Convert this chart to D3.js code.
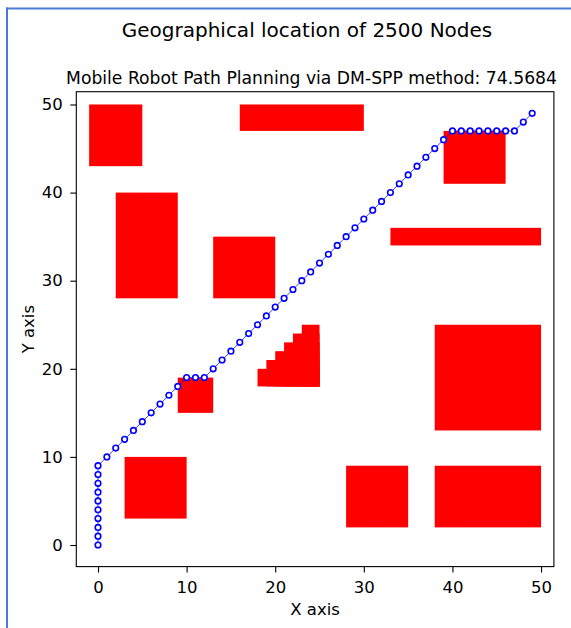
<!DOCTYPE html>
<html>
<head>
<meta charset="utf-8">
<script src="https://cdn.jsdelivr.net/npm/d3@7"></script>
<style>
  body { margin: 0; background: #fff; }
  svg { display: block; font-family: "DejaVu Sans", sans-serif; }
</style>
</head>
<body>
<svg id="chart" width="571" height="628"></svg>
<script>
// path found by the planner (x, y)
var pathX = [0, 0, 0, 0, 0, 0, 0, 0, 0, 0,
             1, 2, 3, 4, 5, 6, 7, 8, 9, 10, 11, 12,
             13, 14, 15, 16, 17, 18, 19, 20, 21, 22, 23, 24, 25, 26,
             27, 28, 29, 30, 31, 32, 33, 34, 35, 36, 37, 38, 39, 40,
             41, 42, 43, 44, 45, 46, 47, 48, 49];
var pathY = [0, 1, 2, 3, 4, 5, 6, 7, 8, 9,
             10, 11, 12, 13, 14, 15, 16, 17, 18, 19, 19, 19,
             20, 21, 22, 23, 24, 25, 26, 27, 28, 29, 30, 31, 32, 33,
             34, 35, 36, 37, 38, 39, 40, 41, 42, 43, 44, 45, 46, 47,
             47, 47, 47, 47, 47, 47, 47, 48, 49];

// obstacles: x0, x1, y0, y1
var obsX0 = [-1, 16, 2, 13, 39, 33, 9, 3, 38, 28, 38, 18, 19, 20, 21, 22, 23];
var obsX1 = [5, 30, 9, 20, 46, 50, 13, 10, 50, 35, 50, 25, 25, 25, 25, 25, 25];
var obsY0 = [43, 47, 28, 28, 41, 34, 15, 3, 13, 2, 2, 18, 18, 18, 18, 18, 18];
var obsY1 = [50, 50, 40, 35, 47, 36, 19, 10, 25, 9, 9, 20, 21, 22, 23, 24, 25];

var ticks = [0, 10, 20, 30, 40, 50];
var titleText = "Geographical location of 2500 Nodes";
var subText = "Mobile Robot Path Planning via DM-SPP method: 74.5684";

var svg = d3.select('#chart');

// window frame lines
svg.append('line').attr('x1', 7).attr('x2', 7).attr('y1', 7.5).attr('y2', 628)
  .attr('stroke', '#4a7bd2').attr('stroke-width', 2);
svg.append('line').attr('x1', 6).attr('x2', 571).attr('y1', 8.5).attr('y2', 8.5)
  .attr('stroke', '#4a7bd2').attr('stroke-width', 2);

var pLeft = 76.3, pRight = 553.9, pTop = 91.7, pBottom = 566.6;

var x = d3.scaleLinear().domain([-2.45, 51.45]).range([pLeft, pRight]);
var y = d3.scaleLinear().domain([-2.45, 51.45]).range([pBottom, pTop]);

var g = svg.append('g');

var obs = obsX0.map(function(d, i) {
  return {x0: d, x1: obsX1[i], y0: obsY0[i], y1: obsY1[i]};
});

g.selectAll('rect.obs')
  .data(obs)
  .enter()
  .append('rect')
  .attr('class', 'obs')
  .attr('x', function(d) { return x(d.x0); })
  .attr('y', function(d) { return y(d.y1); })
  .attr('width', function(d) { return x(d.x1) - x(d.x0); })
  .attr('height', function(d) { return y(d.y0) - y(d.y1); })
  .attr('fill', '#ff0000');

var pts = pathX.map(function(d, i) { return [d, pathY[i]]; });

g.append('path')
  .datum(pts)
  .attr('fill', 'none')
  .attr('stroke', '#0000ff')
  .attr('stroke-opacity', 0.75)
  .attr('stroke-width', 1)
  .attr('d', d3.line().x(function(d) { return x(d[0]); }).y(function(d) { return y(d[1]); }));

g.selectAll('circle')
  .data(pts)
  .enter()
  .append('circle')
  .attr('cx', function(d) { return x(d[0]); })
  .attr('cy', function(d) { return y(d[1]); })
  .attr('r', 2.8)
  .attr('fill', '#fff')
  .attr('stroke', '#0000ff')
  .attr('stroke-width', 1.6);

// axes
var xAxis = d3.axisBottom(x).tickValues(ticks).tickSize(6).tickPadding(9);
var yAxis = d3.axisLeft(y).tickValues(ticks).tickSize(6).tickPadding(7.5);

var gx = svg.append('g').attr('transform', 'translate(0,' + pBottom + ')').call(xAxis);
var gy = svg.append('g').attr('transform', 'translate(' + pLeft + ',0)').call(yAxis);
[gx, gy].forEach(function(a) {
  a.select('.domain').remove();
  a.selectAll('text').attr('font-size', 16.5).attr('fill', '#000')
    .attr('font-family', '"DejaVu Sans", sans-serif');
  a.selectAll('line').attr('stroke', '#000').attr('stroke-width', 1.1);
});

// spines
svg.append('rect')
  .attr('x', pLeft).attr('y', pTop)
  .attr('width', pRight - pLeft).attr('height', pBottom - pTop)
  .attr('fill', 'none').attr('stroke', '#000').attr('stroke-width', 1.1);

// labels
svg.append('text').attr('x', (pLeft + pRight) / 2).attr('y', 615)
  .attr('text-anchor', 'middle').attr('font-size', 16.5).text('X axis');
svg.append('text')
  .attr('transform', 'translate(33.5,' + ((pTop + pBottom) / 2) + ') rotate(-90)')
  .attr('text-anchor', 'middle').attr('font-size', 16.5).text('Y axis');

svg.append('text').attr('x', 307).attr('y', 37)
  .attr('text-anchor', 'middle').attr('font-size', 20).text(titleText);
svg.append('text').attr('x', 311.5).attr('y', 84)
  .attr('text-anchor', 'middle').attr('font-size', 17.2).text(subText);
</script>
</body>
</html>
